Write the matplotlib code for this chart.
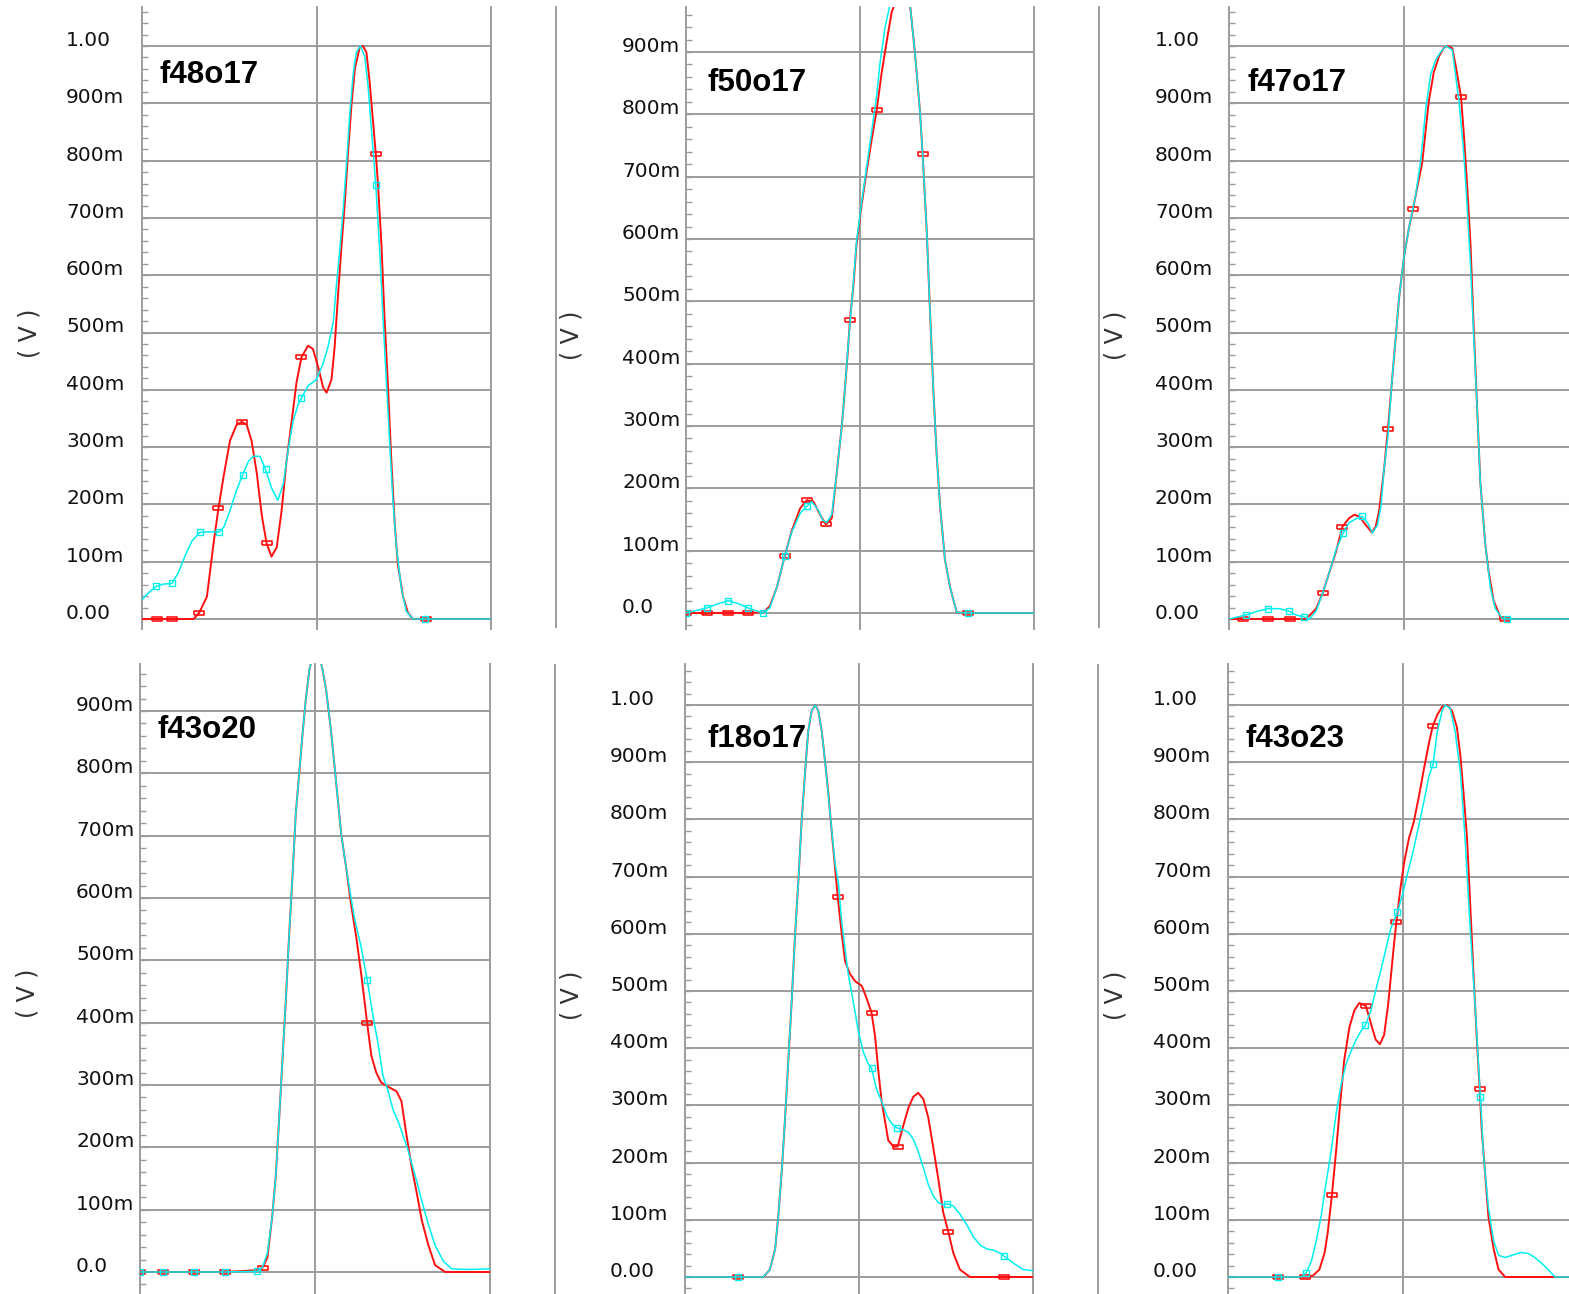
import numpy as np
import matplotlib.pyplot as plt
from matplotlib.lines import Line2D
from matplotlib.ticker import MultipleLocator

# ---- waveform data: (x, volts), x = 0..100 across two grid divisions ----
f48o17_red = [(0, 0), (4.3, 0), (8.6, 0), (14.8, 0), (16.4, 0.011), (18.6, 0.039), (20.5, 0.132),
              (21.9, 0.193), (23.3, 0.246), (25.2, 0.311), (27.1, 0.339), (28.6, 0.344), (30.0, 0.339),
              (31.4, 0.311), (32.9, 0.254), (34.3, 0.182), (35.7, 0.132), (37.1, 0.109), (38.6, 0.125),
              (40.0, 0.189), (41.4, 0.275), (42.9, 0.346), (44.3, 0.414), (45.7, 0.457), (47.6, 0.477),
              (49.0, 0.471), (50.5, 0.439), (51.9, 0.404), (52.9, 0.395), (54.3, 0.418), (55.2, 0.475),
              (56.2, 0.568), (57.1, 0.646), (58.1, 0.725), (59.0, 0.811), (60.0, 0.896), (61.0, 0.961),
              (62.4, 0.998), (63.3, 1.0), (64.3, 0.989), (65.2, 0.939), (66.2, 0.868), (67.0, 0.811),
              (67.6, 0.761), (68.6, 0.654), (69.5, 0.525), (70.5, 0.404), (71.4, 0.282), (72.4, 0.168),
              (73.3, 0.096), (74.8, 0.039), (76.2, 0.011), (77.6, 0), (81.4, 0), (100, 0)]
f48o17_cyan = [(0, 0.034), (1.9, 0.046), (4.1, 0.057), (6.2, 0.061), (8.6, 0.062), (10.5, 0.082),
               (12.4, 0.111), (14.3, 0.136), (16.5, 0.151), (18.6, 0.152), (22.2, 0.152), (23.5, 0.161),
               (25.2, 0.189), (27.1, 0.225), (28.8, 0.251), (30.5, 0.275), (31.9, 0.284), (33.8, 0.284),
               (35.4, 0.261), (37.1, 0.229), (38.9, 0.207), (40.5, 0.236), (41.9, 0.296), (43.3, 0.346),
               (44.8, 0.375), (45.7, 0.386), (47.6, 0.407), (50.0, 0.418), (51.9, 0.446), (53.3, 0.475),
               (54.8, 0.518), (55.7, 0.582), (56.7, 0.646), (57.6, 0.711), (58.6, 0.793), (59.5, 0.879),
               (60.5, 0.950), (61.4, 0.989), (62.6, 1.0), (63.8, 0.982), (64.8, 0.929), (65.7, 0.857),
               (67.0, 0.757), (68.1, 0.643), (69.0, 0.532), (70.0, 0.418), (71.0, 0.304), (71.9, 0.207),
               (72.9, 0.125), (74.3, 0.054), (75.7, 0.014), (77.6, 0), (81.0, 0), (100, 0)]

f50o17_red = [(0, 0), (5.9, 0), (12.2, 0), (17.9, 0), (22.2, 0.001), (24.1, 0.011), (26.1, 0.041),
              (28.4, 0.092), (30.4, 0.132), (32.8, 0.168), (34.7, 0.181), (36.6, 0.179), (38.5, 0.158),
              (40.2, 0.142), (41.9, 0.152), (43.3, 0.224), (44.7, 0.296), (45.7, 0.361), (46.6, 0.427),
              (47.1, 0.470), (48.1, 0.525), (49.0, 0.591), (50.5, 0.656), (51.9, 0.709), (53.4, 0.761),
              (54.8, 0.807), (56.2, 0.866), (57.7, 0.918), (59.1, 0.964), (60.5, 0.985), (62.0, 1.0),
              (63.4, 0.99), (64.4, 0.975), (65.8, 0.898), (67.2, 0.807), (68.0, 0.736), (69.2, 0.610),
              (70.1, 0.486), (71.1, 0.355), (72.0, 0.257), (73.0, 0.172), (74.4, 0.086), (75.9, 0.041),
              (77.8, 0.001), (81.1, 0), (100, 0)]
f50o17_cyan = [(0, 0), (5.9, 0.008), (8.8, 0.014), (12.2, 0.020), (15.5, 0.014), (17.9, 0.008), (22.0, 0),
               (24.1, 0.008), (26.1, 0.041), (28.4, 0.092), (30.4, 0.13), (32.8, 0.16), (34.7, 0.171),
               (36.1, 0.179), (38.0, 0.165), (39.3, 0.149), (40.4, 0.145), (41.9, 0.158), (43.3, 0.224),
               (44.7, 0.296), (45.7, 0.361), (46.6, 0.43), (48.1, 0.53), (49.0, 0.595), (50.5, 0.66),
               (51.9, 0.715), (53.4, 0.775), (54.8, 0.83), (55.7, 0.88), (57.2, 0.94), (58.6, 0.975),
               (60.5, 0.995), (61.7, 1.0), (63.4, 0.99), (64.4, 0.975), (65.8, 0.898), (67.2, 0.807),
               (68.0, 0.736), (69.2, 0.610), (70.1, 0.486), (71.1, 0.355), (72.0, 0.257), (73.0, 0.172),
               (74.4, 0.086), (75.9, 0.041), (77.8, 0.001), (81.1, 0), (100, 0)]

f47o17_red = [(0, 0), (4.0, 0), (11.1, 0), (17.3, 0), (22.0, 0), (24.9, 0.018), (26.8, 0.046), (28.7, 0.082),
              (30.6, 0.118), (32.4, 0.161), (34.3, 0.176), (35.8, 0.182), (37.2, 0.179), (38.6, 0.168),
              (40.8, 0.151), (41.9, 0.161), (42.9, 0.189), (44.3, 0.261), (45.4, 0.331), (46.6, 0.418),
              (47.6, 0.489), (48.6, 0.561), (50.0, 0.632), (51.4, 0.682), (52.6, 0.716), (53.8, 0.754),
              (55.2, 0.796), (56.2, 0.854), (57.1, 0.904), (58.5, 0.954), (60.0, 0.982), (61.4, 0.997),
              (62.5, 1.0), (63.8, 0.996), (64.7, 0.968), (65.7, 0.932), (66.3, 0.911), (67.1, 0.846),
              (68.0, 0.761), (69.0, 0.654), (69.9, 0.511), (70.9, 0.368), (71.8, 0.239), (73.2, 0.132),
              (74.2, 0.082), (75.6, 0.032), (77.5, 0.004), (78.9, 0), (100, 0)]
f47o17_cyan = [(0, 0), (4.9, 0.007), (7.8, 0.013), (11.1, 0.018), (14.4, 0.018), (17.1, 0.014), (19.2, 0.007),
               (21.3, 0.004), (23.0, 0), (24.9, 0.014), (26.8, 0.046), (28.7, 0.082), (30.6, 0.121),
               (32.6, 0.150), (34.3, 0.168), (36.3, 0.175), (38.1, 0.179), (39.6, 0.168), (41.0, 0.150),
               (42.4, 0.164), (43.4, 0.196), (44.3, 0.261), (45.4, 0.318), (46.6, 0.418), (48.6, 0.561),
               (50.0, 0.632), (51.4, 0.682), (53.3, 0.739), (54.7, 0.796), (56.2, 0.889), (57.6, 0.950),
               (59.0, 0.975), (60.4, 0.989), (62.0, 1.0), (63.8, 0.993), (65.7, 0.904), (67.1, 0.811),
               (68.0, 0.725), (69.0, 0.618), (69.9, 0.496), (70.9, 0.368), (71.8, 0.239), (73.2, 0.132),
               (74.7, 0.054), (76.1, 0.018), (78.0, 0.002), (79.4, 0), (100, 0)]

f43o20_red = [(0, 0), (6.7, 0), (15.3, 0), (24.4, 0), (33.5, 0.003), (35.0, 0.007), (36.4, 0.023), (37.8, 0.09),
              (38.8, 0.155), (39.7, 0.24), (40.7, 0.34), (41.7, 0.44), (42.6, 0.539), (43.6, 0.638),
              (44.5, 0.735), (45.5, 0.801), (46.5, 0.867), (47.4, 0.92), (48.4, 0.966), (49.8, 1.0),
              (51.2, 0.99), (52.2, 0.965), (53.2, 0.933), (54.6, 0.867), (56.0, 0.788), (57.5, 0.702),
              (58.9, 0.649), (60.3, 0.590), (61.8, 0.537), (63.2, 0.478), (64.2, 0.432), (64.9, 0.399),
              (66.1, 0.347), (67.5, 0.320), (68.9, 0.304), (70.9, 0.297), (73.3, 0.290), (74.7, 0.274),
              (76.1, 0.221), (77.6, 0.169), (79.0, 0.129), (80.5, 0.083), (82.4, 0.043), (84.3, 0.011),
              (87.2, 0), (100, 0)]
f43o20_cyan = [(0, 0), (6.7, 0), (15.3, 0), (24.4, 0), (33.5, 0.001), (35.0, 0.008), (36.4, 0.03), (37.8, 0.09),
               (38.8, 0.155), (39.7, 0.24), (40.7, 0.34), (41.7, 0.44), (42.6, 0.539), (43.6, 0.638),
               (44.5, 0.735), (45.5, 0.801), (46.5, 0.867), (47.4, 0.92), (48.4, 0.966), (49.8, 1.0),
               (51.2, 0.99), (52.2, 0.965), (53.2, 0.933), (54.6, 0.867), (56.0, 0.788), (57.5, 0.702),
               (58.9, 0.649), (60.3, 0.6), (61.3, 0.567), (63.2, 0.521), (64.9, 0.469), (66.5, 0.413),
               (68.0, 0.367), (69.4, 0.315), (70.9, 0.29), (72.3, 0.26), (73.8, 0.241), (75.2, 0.218),
               (76.6, 0.195), (78.1, 0.165), (79.5, 0.136), (80.9, 0.106), (82.4, 0.076), (84.3, 0.043),
               (86.7, 0.017), (89.1, 0.005), (93.9, 0.004), (100, 0.005)]

f18o17_red = [(0, 0), (15.3, 0), (22.5, 0), (24.4, 0.013), (25.9, 0.049), (26.8, 0.106), (27.8, 0.185),
              (28.7, 0.272), (29.7, 0.379), (30.7, 0.487), (31.6, 0.595), (32.6, 0.695), (33.5, 0.796),
              (34.5, 0.882), (35.4, 0.954), (36.4, 0.990), (37.4, 1.0), (38.3, 0.99), (39.3, 0.954),
              (40.2, 0.904), (41.2, 0.846), (42.1, 0.782), (43.1, 0.717), (43.9, 0.664), (45.0, 0.602),
              (46.0, 0.552), (47.4, 0.53), (48.9, 0.517), (50.8, 0.509), (52.2, 0.487), (53.6, 0.462),
              (54.6, 0.422), (55.6, 0.358), (56.5, 0.307), (57.5, 0.272), (58.4, 0.239), (59.9, 0.228),
              (61.1, 0.228), (62.7, 0.264), (64.2, 0.296), (65.6, 0.315), (67.0, 0.322), (68.5, 0.311),
              (69.9, 0.279), (71.3, 0.228), (72.8, 0.171), (74.2, 0.113), (75.7, 0.078), (77.1, 0.042),
              (79.0, 0.013), (81.9, 0), (85.7, 0), (91.8, 0), (100, 0)]
f18o17_cyan = [(0, 0), (15.3, 0), (22.5, 0), (24.4, 0.013), (25.9, 0.049), (26.8, 0.106), (27.8, 0.185),
               (28.7, 0.272), (29.7, 0.379), (30.7, 0.487), (31.6, 0.595), (32.6, 0.695), (33.5, 0.796),
               (34.5, 0.882), (35.4, 0.954), (36.4, 0.990), (37.4, 1.0), (38.3, 0.99), (39.3, 0.954),
               (40.2, 0.904), (41.7, 0.81), (43.1, 0.724), (44.1, 0.688), (45.0, 0.623), (46.0, 0.573),
               (46.9, 0.53), (48.4, 0.48), (49.8, 0.43), (51.2, 0.394), (52.7, 0.372), (53.6, 0.365),
               (55.0, 0.329), (56.5, 0.307), (58.0, 0.282), (59.4, 0.268), (60.8, 0.261), (62.7, 0.257),
               (64.2, 0.253), (65.6, 0.241), (67.0, 0.22), (68.5, 0.191), (69.9, 0.162), (71.4, 0.141),
               (72.8, 0.13), (74.2, 0.126), (75.4, 0.128), (77.1, 0.124), (79.0, 0.11), (80.9, 0.092),
               (82.9, 0.07), (84.8, 0.056), (86.7, 0.049), (88.6, 0.047), (90.5, 0.042), (91.8, 0.036),
               (94.4, 0.024), (97.2, 0.013), (100, 0.011)]

f43o23_red = [(0, 0), (14.3, 0), (21.9, 0), (24.2, 0.002), (26.1, 0.013), (27.6, 0.042), (28.5, 0.078),
              (29.7, 0.144), (30.9, 0.221), (32.0, 0.3), (33.2, 0.379), (34.7, 0.437), (36.1, 0.466),
              (37.5, 0.479), (39.4, 0.474), (40.8, 0.444), (42.2, 0.415), (43.4, 0.407), (44.6, 0.423),
              (45.7, 0.473), (46.5, 0.523), (47.4, 0.58), (48.1, 0.62), (49.3, 0.681), (50.3, 0.724),
              (51.7, 0.767), (53.1, 0.796), (54.5, 0.839), (56.0, 0.889), (57.4, 0.933), (58.5, 0.963),
              (59.8, 0.983), (61.2, 0.997), (62.6, 1.0), (64.0, 0.99), (65.4, 0.961), (66.4, 0.911),
              (67.3, 0.846), (68.3, 0.767), (69.2, 0.652), (70.2, 0.523), (71.1, 0.415), (71.9, 0.329),
              (72.5, 0.257), (73.5, 0.178), (74.4, 0.106), (75.9, 0.049), (77.3, 0.013), (79.2, 0), (100, 0)]
f43o23_cyan = [(0, 0), (14.3, 0), (20.9, 0), (22.3, 0.007), (23.8, 0.027), (25.2, 0.063), (26.6, 0.106),
               (28.0, 0.164), (29.5, 0.221), (30.9, 0.286), (32.3, 0.336), (33.7, 0.372), (35.1, 0.394),
               (36.6, 0.415), (38.0, 0.43), (39.2, 0.44), (40.8, 0.465), (42.2, 0.501), (43.7, 0.537),
               (45.1, 0.573), (46.5, 0.609), (48.4, 0.638), (49.8, 0.667), (51.2, 0.703), (52.7, 0.739),
               (54.5, 0.789), (56.0, 0.832), (57.4, 0.875), (58.6, 0.896), (59.8, 0.954), (61.2, 0.99),
               (62.1, 1.0), (63.5, 0.994), (64.9, 0.954), (66.4, 0.882), (67.8, 0.76), (69.2, 0.609),
               (70.7, 0.465), (72.1, 0.315), (73.0, 0.214), (74.4, 0.121), (75.9, 0.063), (77.3, 0.038),
               (79.2, 0.034), (81.1, 0.038), (83.9, 0.043), (85.8, 0.041), (87.7, 0.034), (89.6, 0.024),
               (91.5, 0.013), (93.4, 0), (100, 0)]

# x positions of the small square point markers on each trace
f48o17_red_marks = [4.3, 8.6, 16.4, 21.9, 28.6, 35.7, 45.7, 67.0, 81.4]
f48o17_cyan_marks = [4.1, 8.6, 16.5, 22.2, 28.8, 35.4, 45.7, 67.0, 81.0]
f50o17_red_marks = [0, 5.9, 12.2, 17.9, 28.4, 34.7, 40.2, 47.1, 54.8, 68.0, 81.1]
f50o17_cyan_marks = [0, 5.9, 12.2, 17.9, 22.0, 28.4, 34.7, 81.1]
f47o17_red_marks = [4.0, 11.1, 17.3, 26.8, 32.4, 45.4, 52.6, 66.3, 78.9]
f47o17_cyan_marks = [4.9, 11.1, 17.1, 21.3, 32.6, 38.1, 79.4]
f43o20_red_marks = [0, 6.7, 15.3, 24.4, 35.0, 64.9]
f43o20_cyan_marks = [0, 6.7, 15.3, 24.4, 33.5, 64.9]
f18o17_red_marks = [15.3, 43.9, 53.6, 61.1, 75.7, 91.8]
f18o17_cyan_marks = [15.3, 53.6, 60.8, 75.4, 91.8]
f43o23_red_marks = [14.3, 21.9, 29.7, 39.4, 48.1, 58.5, 71.9]
f43o23_cyan_marks = [14.3, 22.3, 39.2, 48.1, 58.6, 72.1]

ticks_full = [0.0, 0.1, 0.2, 0.3, 0.4, 0.5, 0.6, 0.7, 0.8, 0.9, 1.0]
labels_full = ['0.00', '100m', '200m', '300m', '400m', '500m', '600m', '700m', '800m', '900m', '1.00']
ticks_short = [0.0, 0.1, 0.2, 0.3, 0.4, 0.5, 0.6, 0.7, 0.8, 0.9]
labels_short = ['0.0', '100m', '200m', '300m', '400m', '500m', '600m', '700m', '800m', '900m']

W, H = 1569, 1294
fig = plt.figure(figsize=(W / 100, H / 100), dpi=100)

GRID = '#9c9c9c'
RED = '#ff1010'
CYAN = '#00f0f0'

# pixel layout: axes box (left, top, right, bottom), zero-line row, px per volt,
# tick label left edge, name position, "( V )" position
panels = [
    ('f48o17', f48o17_red, f48o17_cyan, f48o17_red_marks, f48o17_cyan_marks,
     (142, 7, 491, 629), 619, 573, 'full', 66, (160, 75), (30, 333)),
    ('f50o17', f50o17_red, f50o17_cyan, f50o17_red_marks, f50o17_cyan_marks,
     (686, 7, 1034, 629), 613, 623.3, 'short', 622, (708, 83), (572, 335)),
    ('f47o17', f47o17_red, f47o17_cyan, f47o17_red_marks, f47o17_cyan_marks,
     (1229, 7, 1579, 629), 619, 573, 'full', 1155, (1247, 83), (1115, 335)),
    ('f43o20', f43o20_red, f43o20_cyan, f43o20_red_marks, f43o20_cyan_marks,
     (140, 664, 490, 1294), 1272, 623.3, 'short', 76, (158, 730), (27, 993)),
    ('f18o17', f18o17_red, f18o17_cyan, f18o17_red_marks, f18o17_cyan_marks,
     (685, 664, 1033, 1294), 1277, 572, 'full', 610, (707, 739), (572, 995)),
    ('f43o23', f43o23_red, f43o23_cyan, f43o23_red_marks, f43o23_cyan_marks,
     (1228, 664, 1578, 1294), 1277, 572, 'full', 1153, (1245, 739), (1115, 995)),
]

red_mark = [(-1, -0.4), (1, -0.4), (1, 0.4), (-1, 0.4), (-1, -0.4)]


def nearest(xs, marks):
    return [int(np.argmin(np.abs(xs - m))) for m in marks]


for (name, red, cyan, rmarks, cmarks, box, zero_px, ppv, kind,
     lab_x, name_pos, vpos) in panels:
    left, top, right, bottom = box
    ax = fig.add_axes([left / W, 1 - bottom / H, (right - left) / W, (bottom - top) / H])
    ax.set_xlim(0, 100)
    ax.set_ylim((zero_px - bottom) / ppv, (zero_px - top) / ppv)
    ax.patch.set_alpha(0)

    ticks, labels = (ticks_full, labels_full) if kind == 'full' else (ticks_short, labels_short)
    for t in ticks:
        ax.axhline(t, color=GRID, lw=1.4, zorder=1)
    for xv in (50, 100):
        ax.axvline(xv, color=GRID, lw=1.4, zorder=1, clip_on=False)

    for s in ('top', 'right', 'bottom'):
        ax.spines[s].set_visible(False)
    ax.spines['left'].set_color(GRID)
    ax.spines['left'].set_linewidth(1.4)
    ax.set_xticks([])
    ax.set_yticks(ticks)
    ax.set_yticklabels(labels, ha='left', va='baseline', fontsize=14.5,
                       family='DejaVu Sans', color='#111111')
    ax.yaxis.set_minor_locator(MultipleLocator(0.02))
    ax.tick_params(axis='y', which='major', direction='in', length=4, width=1,
                   color=GRID, pad=(left - lab_x) * 0.72)
    ax.tick_params(axis='y', which='minor', direction='in', length=4, width=1, color=GRID)

    rx, ry = np.array(red).T
    cx, cy = np.array(cyan).T
    ax.plot(rx, ry, color=RED, lw=1.4, zorder=3, marker=red_mark, ms=7, mfc='none',
            mec=RED, mew=1.2, markevery=nearest(rx, rmarks))
    ax.plot(cx, cy, color=CYAN, lw=1.1, zorder=4, marker='s', ms=4, mfc='none',
            mec=CYAN, mew=1.0, markevery=nearest(cx, cmarks))

    fig.text(name_pos[0] / W, 1 - name_pos[1] / H, name, fontsize=22.5, fontweight='bold',
             family='Liberation Sans', ha='left', va='center', zorder=5)
    fig.text(vpos[0] / W, 1 - vpos[1] / H, '( V )', rotation=90, fontsize=17,
             color='#333333', ha='center', va='center')

# left borders of the neighbouring waveform windows
for xf, y0, y1 in [(556, 7, 627), (1099, 7, 627), (555, 665, 1294), (1098, 665, 1294)]:
    fig.add_artist(Line2D([xf / W, xf / W], [1 - y0 / H, 1 - y1 / H],
                          transform=fig.transFigure, color=GRID, lw=1.4))

fig.savefig('out.png', dpi=100)
